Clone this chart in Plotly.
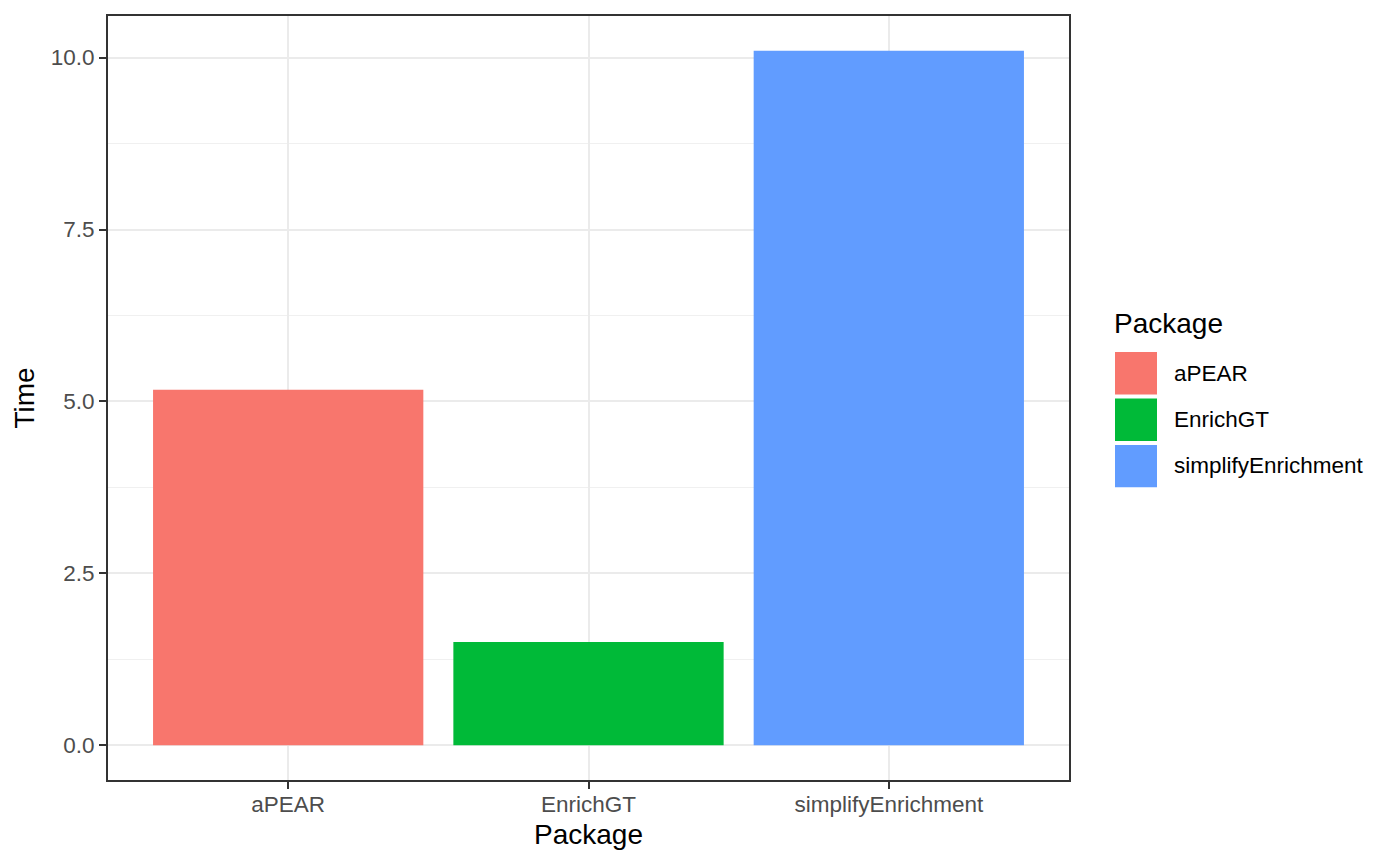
import plotly.graph_objects as go

packages = ["aPEAR", "EnrichGT", "simplifyEnrichment"]
times = [5.17, 1.50, 10.10]
colors = ["#F8766D", "#00BA38", "#619CFF"]

y_ticks = [0.0, 2.5, 5.0, 7.5, 10.0]
y_tick_labels = ["0.0", "2.5", "5.0", "7.5", "10.0"]
y_minor = [1.25, 3.75, 6.25, 8.75]

# page is 1400x865 but the html body adds an 8px margin
OFF = 8
W, H = 1400 - 2 * OFF, 865 - 2 * OFF
# panel edges in page pixels
PL, PR, PT, PB = 108, 1069, 14, 780

FONT = "Liberation Sans, Arial, sans-serif"
tick_font = dict(family=FONT, size=22.5, color="#4D4D4D")
title_font = dict(family=FONT, size=28, color="black")
label_font = dict(family=FONT, size=22.5, color="black")

fig = go.Figure(
    go.Bar(
        x=packages,
        y=times,
        width=0.9,
        marker=dict(color=colors, line=dict(width=0)),
        showlegend=False,
    )
)

grid = "#EBEBEB"
fig.update_xaxes(
    range=[-0.6, 2.6],
    showgrid=True, gridcolor=grid, gridwidth=2,
    showline=True, mirror=True, linecolor="#333333", linewidth=1.8,
    ticks="outside", ticklen=7, tickwidth=2, tickcolor="#333333",
    tickfont=tick_font, ticklabelstandoff=-4,
    title=dict(text="Package", font=title_font, standoff=8),
    zeroline=False,
)
fig.update_yaxes(
    range=[-0.505, 10.605],
    tickvals=y_ticks, ticktext=y_tick_labels,
    showgrid=True, gridcolor=grid, gridwidth=2,
    minor=dict(tickvals=y_minor, showgrid=True, gridcolor="#F0F0F0", gridwidth=1, ticks=""),
    showline=True, mirror=True, linecolor="#333333", linewidth=1.8,
    ticks="outside", ticklen=7, tickwidth=2, tickcolor="#333333",
    tickfont=tick_font,
    title=dict(text="Time", font=title_font, standoff=8),
    zeroline=False,
)


def px_x(v):
    return (v - PL) / (PR - PL)


def px_y(v):
    return (PB - v) / (PB - PT)


# ggplot-style legend built from the data lists
shapes = []
annotations = [
    dict(text="Package", x=px_x(1112), y=px_y(322), xref="paper", yref="paper",
         xanchor="left", yanchor="middle", showarrow=False, font=title_font)
]
key_top = 351
for i, (name, col) in enumerate(zip(packages, colors)):
    t = key_top + i * 46.5
    shapes.append(dict(type="rect", xref="paper", yref="paper",
                       x0=px_x(1115), x1=px_x(1157), y0=px_y(t + 42.5), y1=px_y(t),
                       fillcolor=col, line=dict(width=0)))
    annotations.append(dict(text=name, x=px_x(1172), y=px_y(t + 21), xref="paper", yref="paper",
                            xanchor="left", yanchor="middle", showarrow=False, font=label_font))

fig.update_layout(
    width=W, height=H,
    margin=dict(l=PL - OFF, r=1400 - OFF - PR, t=PT - OFF, b=865 - OFF - PB),
    plot_bgcolor="white", paper_bgcolor="white",
    font=dict(family=FONT),
    shapes=shapes, annotations=annotations,
)

fig.write_html("out.html")
